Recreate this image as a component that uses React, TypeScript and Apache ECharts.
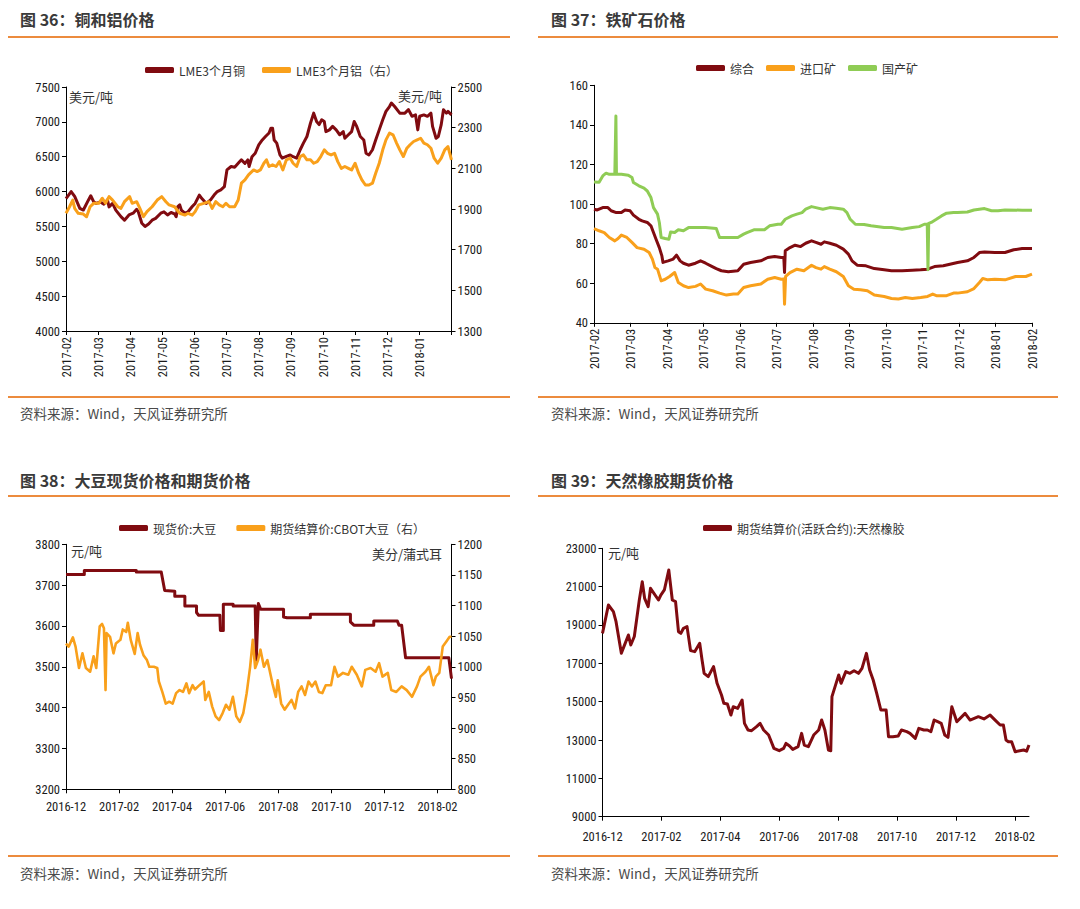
import React, { useEffect, useRef } from 'react';
import * as echarts from 'echarts';

const RED = '#800b10';
const ORANGE = '#f9a01b';
const GREEN = '#8fcc55';
const RULE = '#ec8b3d';
const NUM_FONT = '"Roboto Condensed", "Liberation Sans Narrow", "DejaVu Sans Condensed", "Liberation Sans", Arial, sans-serif';
const CJK_FONT = '"Noto Sans CJK SC", "Noto Sans", sans-serif';

// ---------- 图36 铜和铝价格 (x: months since 2017-02) ----------
const copper: number[][] = [
  [0, 5900], [0.16, 6000], [0.27, 5930], [0.43, 5760], [0.54, 5735], [0.7, 5880], [0.77, 5940], [0.86, 5855],
  [0.94, 5830], [1.07, 5850], [1.18, 5820], [1.29, 5880], [1.34, 5780], [1.45, 5830], [1.55, 5735], [1.71, 5640],
  [1.82, 5590], [1.96, 5665], [2.09, 5690], [2.2, 5745], [2.25, 5710], [2.36, 5545], [2.46, 5500], [2.57, 5535],
  [2.68, 5590], [2.79, 5615], [2.95, 5690], [3.05, 5710], [3.16, 5665], [3.27, 5700], [3.38, 5680], [3.43, 5640],
  [3.48, 5785], [3.54, 5810], [3.59, 5735], [3.7, 5690], [3.8, 5710], [3.93, 5785], [4.02, 5830], [4.15, 5950],
  [4.23, 5900], [4.37, 5830], [4.5, 5880], [4.61, 5950], [4.71, 6000], [4.82, 6025], [4.93, 6070], [5.01, 6310],
  [5.14, 6360], [5.25, 6350], [5.36, 6405], [5.46, 6455], [5.57, 6405], [5.66, 6455], [5.7, 6360], [5.79, 6500],
  [5.89, 6550], [6.0, 6670], [6.11, 6740], [6.21, 6790], [6.32, 6840], [6.38, 6910], [6.43, 6910], [6.48, 6740],
  [6.56, 6695], [6.66, 6525], [6.73, 6480], [6.86, 6505], [6.98, 6525], [7.07, 6500], [7.18, 6480], [7.29, 6600],
  [7.39, 6695], [7.5, 6790], [7.61, 6980], [7.71, 7125], [7.8, 7005], [7.88, 6960], [7.96, 7030], [8.04, 7005],
  [8.09, 6860], [8.2, 6885], [8.3, 6935], [8.41, 6885], [8.52, 6815], [8.63, 6860], [8.68, 6765], [8.79, 6815],
  [8.89, 6860], [8.97, 7005], [9.05, 6935], [9.16, 6790], [9.27, 6740], [9.34, 6550], [9.43, 6525], [9.54, 6600],
  [9.64, 6740], [9.75, 6885], [9.86, 7030], [9.96, 7150], [10.07, 7220], [10.13, 7270], [10.23, 7220], [10.39, 7125],
  [10.55, 7125], [10.66, 7175], [10.77, 7080], [10.88, 7100], [10.95, 6885], [11.01, 7080], [11.14, 7100], [11.25, 7080],
  [11.36, 7125], [11.41, 6935], [11.52, 6765], [11.59, 6790], [11.68, 6960], [11.75, 7175], [11.84, 7125], [11.89, 7150],
  [12, 7100],
];
const aluminium: number[][] = [
  [0, 1879], [0.11, 1911], [0.21, 1944], [0.27, 1903], [0.38, 1879], [0.54, 1875], [0.64, 1862], [0.75, 1911],
  [0.86, 1928], [1.02, 1928], [1.13, 1953], [1.23, 1928], [1.34, 1961], [1.45, 1944], [1.61, 1911], [1.71, 1903],
  [1.82, 1936], [1.98, 1961], [2.06, 1928], [2.2, 1936], [2.3, 1903], [2.41, 1862], [2.52, 1887], [2.68, 1911],
  [2.84, 1944], [2.98, 1961], [3.11, 1936], [3.21, 1920], [3.38, 1911], [3.54, 1879], [3.7, 1870], [3.8, 1879],
  [3.93, 1870], [4.02, 1887], [4.13, 1920], [4.29, 1928], [4.45, 1936], [4.55, 1903], [4.66, 1936], [4.77, 1920],
  [4.88, 1911], [4.98, 1928], [5.09, 1911], [5.25, 1911], [5.36, 1944], [5.46, 2027], [5.57, 2043], [5.68, 2068],
  [5.84, 2092], [5.95, 2084], [6.05, 2092], [6.16, 2125], [6.24, 2142], [6.32, 2109], [6.43, 2117], [6.54, 2109],
  [6.64, 2133], [6.75, 2092], [6.86, 2142], [6.98, 2150], [7.07, 2125], [7.18, 2109], [7.29, 2158], [7.39, 2166],
  [7.5, 2142], [7.61, 2142], [7.71, 2125], [7.82, 2133], [7.93, 2158], [8.04, 2191], [8.14, 2174], [8.25, 2166],
  [8.36, 2174], [8.46, 2133], [8.57, 2100], [8.68, 2109], [8.79, 2100], [8.89, 2092], [9.0, 2125], [9.11, 2076],
  [9.21, 2043], [9.32, 2018], [9.43, 2018], [9.54, 2027], [9.64, 2076], [9.75, 2125], [9.86, 2191], [9.96, 2240],
  [10.07, 2273], [10.18, 2265], [10.29, 2224], [10.39, 2191], [10.5, 2158], [10.61, 2199], [10.71, 2216], [10.82, 2232],
  [10.93, 2240], [11.04, 2248], [11.14, 2224], [11.25, 2216], [11.36, 2199], [11.46, 2150], [11.57, 2125], [11.68, 2150],
  [11.79, 2191], [11.89, 2207], [12, 2142],
];
const copperTicksLeft = [4000, 4500, 5000, 5500, 6000, 6500, 7000, 7500];
const aluTicksRight = [1300, 1500, 1700, 1900, 2100, 2300, 2500];

// ---------- 图37 铁矿石价格 (x: months since 2017-02) ----------
const oreTotal: number[][] = [
  [0, 97.4], [0.09, 97], [0.24, 98.2], [0.38, 98.2], [0.47, 96.6], [0.61, 95.7], [0.75, 95.7], [0.85, 97],
  [0.99, 96.6], [1.08, 94.4], [1.23, 92.3], [1.32, 91.5], [1.46, 90.7], [1.56, 89], [1.63, 85.6], [1.7, 82.2],
  [1.79, 78], [1.86, 73.8], [1.89, 70.5], [2.03, 71.3], [2.17, 72.2], [2.26, 74.2], [2.36, 71.3], [2.45, 70.1],
  [2.59, 69.1], [2.78, 70.1], [2.92, 71.3], [3.06, 70.1], [3.2, 68.8], [3.35, 67.4], [3.49, 66.3], [3.68, 65.8],
  [3.94, 66.3], [4.1, 69.6], [4.29, 70.5], [4.57, 71.3], [4.76, 73], [4.95, 73.5], [5.13, 73], [5.2, 73],
  [5.22, 65.4], [5.24, 76.4], [5.37, 78], [5.51, 79.2], [5.66, 78.5], [5.8, 80.2], [5.96, 81.4], [6.08, 80.6],
  [6.22, 79.7], [6.31, 80.9], [6.46, 80.2], [6.64, 79.2], [6.83, 77.2], [6.97, 74.7], [7.07, 71.3], [7.21, 69.1],
  [7.45, 68.8], [7.68, 67.4], [7.95, 66.8], [8.15, 66.3], [8.44, 66.3], [8.72, 66.6], [8.95, 66.8], [9.14, 67.1],
  [9.33, 68.4], [9.57, 68.8], [9.75, 69.6], [9.96, 70.5], [10.23, 71.3], [10.41, 73], [10.56, 75.5], [10.7, 75.8],
  [10.98, 75.5], [11.26, 75.5], [11.5, 76.9], [11.73, 77.5], [12, 77.5],
];
const oreImport: number[][] = [
  [0, 87.6], [0.14, 86.5], [0.28, 85.6], [0.42, 83.1], [0.57, 81.4], [0.66, 82.6], [0.75, 84.3], [0.9, 83.1],
  [1.04, 80.6], [1.18, 78], [1.37, 77.2], [1.51, 75.5], [1.6, 72.2], [1.67, 67.9], [1.74, 67.1], [1.84, 61.2],
  [1.95, 62], [2.07, 63.4], [2.21, 65.4], [2.31, 60.4], [2.45, 58.7], [2.59, 57.8], [2.78, 58.4], [2.92, 59.6],
  [3.06, 57], [3.25, 56.2], [3.44, 55], [3.63, 54], [3.82, 54.5], [3.94, 54.5], [4.1, 57.8], [4.29, 58.7],
  [4.57, 59.6], [4.76, 62], [4.95, 62.9], [5.13, 62], [5.2, 62.2], [5.22, 49.4], [5.25, 63.4], [5.37, 65.4],
  [5.56, 67.1], [5.75, 66.3], [5.96, 69.1], [6.08, 67.9], [6.22, 67.1], [6.31, 68.4], [6.46, 67.1], [6.64, 65.8],
  [6.83, 63.4], [6.97, 58.7], [7.12, 57], [7.3, 56.7], [7.49, 56.2], [7.68, 54], [7.95, 53.3], [8.15, 52.3],
  [8.34, 52], [8.53, 52.8], [8.72, 52.3], [8.95, 52.8], [9.14, 53.3], [9.28, 54.5], [9.38, 53.7], [9.66, 53.7],
  [9.85, 55], [9.96, 55], [10.23, 55.7], [10.41, 57.3], [10.56, 60.4], [10.65, 62.4], [10.79, 61.7], [10.98, 62],
  [11.26, 61.7], [11.55, 63.4], [11.83, 63.4], [12, 64.6],
];
const oreDomestic: number[][] = [
  [0, 111.2], [0.14, 111], [0.24, 114.2], [0.33, 115.6], [0.42, 115], [0.57, 115], [0.585, 115], [0.6, 144.5],
  [0.615, 115], [0.75, 115], [0.94, 114.6], [1.04, 113.4], [1.08, 110.9], [1.23, 109.2], [1.37, 108], [1.46, 106.6],
  [1.56, 103.3], [1.63, 98.2], [1.74, 94.9], [1.79, 90.7], [1.84, 83.1], [1.95, 82.6], [2.05, 82.2], [2.1, 85.9],
  [2.21, 85.6], [2.31, 87], [2.45, 86.5], [2.59, 88.1], [2.78, 88.1], [3.06, 88.1], [3.35, 87.6], [3.44, 83.1],
  [3.63, 83.1], [3.94, 83.1], [4.1, 84.8], [4.19, 85.6], [4.38, 87], [4.67, 87], [4.81, 89], [5.04, 89.8],
  [5.13, 89.8], [5.24, 92.3], [5.42, 94], [5.56, 94.9], [5.7, 95.7], [5.8, 97.4], [5.96, 98.7], [6.08, 98.2],
  [6.27, 97.4], [6.46, 98.2], [6.64, 97.9], [6.83, 97.4], [6.93, 95.7], [7.02, 92.3], [7.16, 89.8], [7.4, 89.7],
  [7.59, 89], [7.95, 88.1], [8.15, 88.1], [8.44, 87.3], [8.72, 88.1], [8.91, 88.6], [9.05, 89.8], [9.13, 89.8],
  [9.15, 66.8], [9.17, 90.2], [9.24, 90.7], [9.38, 92.3], [9.52, 94], [9.66, 95.4], [9.85, 95.7], [9.96, 95.7],
  [10.23, 96], [10.41, 97], [10.7, 97.7], [10.89, 96.6], [11.07, 96.6], [11.26, 97], [11.73, 96.9], [12, 96.9],
];

// ---------- 图38 大豆现货价格和期货价格 (x: months since 2016-12) ----------
const soySpot: number[][] = [
  [0, 3726], [0.69, 3726], [0.69, 3736], [2.65, 3736], [2.65, 3732], [3.59, 3732], [3.72, 3687], [4.1, 3685],
  [4.1, 3673], [4.48, 3673], [4.48, 3649], [4.92, 3649], [4.92, 3633], [5.0, 3626], [5.8, 3626], [5.82, 3589],
  [5.93, 3589], [5.93, 3653], [6.3, 3653], [6.3, 3649], [7.13, 3649], [7.17, 3516], [7.25, 3655], [7.34, 3641],
  [8.2, 3641], [8.2, 3622], [8.33, 3620], [9.21, 3620], [9.21, 3629], [10.72, 3629], [10.72, 3610], [10.85, 3602],
  [11.6, 3602], [11.6, 3612], [12.49, 3612], [12.55, 3602], [12.65, 3602], [12.8, 3522], [14.43, 3522], [14.53, 3471],
];
const soyCbot: number[][] = [
  [0, 1038], [0.1, 1033], [0.26, 1048], [0.36, 1033], [0.49, 998], [0.62, 1022], [0.75, 998], [0.91, 992],
  [1.04, 1017], [1.14, 998], [1.27, 1066], [1.36, 1070], [1.43, 1063], [1.49, 962], [1.53, 1055], [1.66, 1049],
  [1.79, 1022], [1.88, 1038], [2.05, 1044], [2.14, 1061], [2.27, 1057], [2.33, 1072], [2.44, 1044], [2.59, 1021],
  [2.7, 1055], [2.79, 1036], [2.92, 1019], [3.05, 1011], [3.14, 1000], [3.31, 1000], [3.44, 998], [3.5, 976],
  [3.63, 959], [3.76, 940], [3.89, 943], [4.02, 940], [4.15, 957], [4.28, 962], [4.41, 959], [4.54, 973],
  [4.64, 957], [4.77, 970], [4.86, 963], [5.03, 970], [5.19, 976], [5.25, 946], [5.38, 959], [5.51, 935],
  [5.64, 919], [5.77, 913], [5.9, 924], [6.03, 938], [6.16, 930], [6.29, 951], [6.42, 919], [6.55, 910],
  [6.68, 924], [6.81, 957], [6.94, 1000], [7.04, 1044], [7.13, 998], [7.24, 1011], [7.33, 1028], [7.46, 1000],
  [7.59, 1011], [7.78, 973], [7.91, 951], [7.98, 978], [8.11, 940], [8.24, 930], [8.37, 938], [8.5, 946],
  [8.63, 932], [8.75, 959], [8.88, 968], [9.01, 954], [9.14, 976], [9.27, 968], [9.4, 976], [9.53, 959],
  [9.66, 957], [9.79, 970], [9.99, 970], [10.12, 1000], [10.25, 984], [10.44, 990], [10.64, 987], [10.77, 1000],
  [10.96, 987], [11.15, 968], [11.28, 995], [11.48, 998], [11.67, 992], [11.8, 1006], [11.93, 984], [12.13, 990],
  [12.26, 962], [12.45, 959], [12.65, 968], [12.84, 962], [13.04, 951], [13.23, 968], [13.36, 984], [13.55, 992],
  [13.68, 1000], [13.85, 970], [13.94, 984], [14.07, 990], [14.2, 1033], [14.33, 1041], [14.46, 1049], [14.53, 1049],
];

// ---------- 图39 天然橡胶期货价格 (x: months since 2016-12) ----------
const rubber: number[][] = [
  [0, 18565], [0.2, 20044], [0.37, 19700], [0.46, 19174], [0.64, 17530], [0.76, 18000], [0.88, 18478], [0.96, 17957],
  [1.08, 18400], [1.25, 20304], [1.35, 21261], [1.43, 20391], [1.55, 19957], [1.63, 20913], [1.9, 20304], [1.98, 20560],
  [2.1, 20826], [2.25, 21870], [2.37, 20304], [2.48, 20217], [2.58, 18652], [2.66, 18565], [2.75, 18826], [2.87, 18913],
  [2.99, 17661], [3.13, 17609], [3.3, 18043], [3.38, 17174], [3.45, 16478], [3.59, 16304], [3.77, 16826], [3.89, 15957],
  [4.04, 15348], [4.12, 14913], [4.24, 14878], [4.36, 14304], [4.44, 14739], [4.59, 14652], [4.74, 15087], [4.82, 13870],
  [4.94, 13522], [5.06, 13487], [5.23, 13696], [5.35, 13870], [5.47, 13522], [5.64, 13261], [5.82, 12565], [6.0, 12443],
  [6.15, 12565], [6.23, 12826], [6.35, 12687], [6.46, 12513], [6.64, 12652], [6.76, 13348], [6.85, 12739], [6.99, 12652],
  [7.17, 13261], [7.34, 13522], [7.44, 14043], [7.55, 13522], [7.67, 12478], [7.75, 12440], [7.79, 15261], [7.93, 15957],
  [8.02, 16391], [8.1, 15957], [8.26, 16565], [8.4, 16478], [8.54, 16617], [8.69, 16478], [8.81, 16739], [8.96, 17522],
  [9.07, 16652], [9.19, 16130], [9.31, 15435], [9.45, 14565], [9.63, 14565], [9.71, 13174], [9.86, 13174], [10.04, 13209],
  [10.15, 13522], [10.33, 13435], [10.44, 13348], [10.62, 13087], [10.74, 13609], [10.91, 13522], [11.03, 13522], [11.15, 13435],
  [11.26, 14043], [11.38, 13957], [11.5, 13870], [11.62, 13261], [11.73, 13139], [11.86, 14740], [12.03, 13955], [12.31, 14390],
  [12.48, 14040], [12.76, 14215], [12.95, 14100], [13.16, 14300], [13.33, 14040], [13.5, 13780], [13.61, 13780], [13.7, 13000],
  [13.78, 12910], [13.89, 12910], [14.01, 12390], [14.3, 12480], [14.4, 12420], [14.48, 12740],
];
const rubberTicks = [9000, 11000, 13000, 15000, 17000, 19000, 21000, 23000];

const months0to12 = [0, 1, 2, 3, 4, 5, 6, 7, 8, 9, 10, 11, 12];
const months0to11 = [0, 1, 2, 3, 4, 5, 6, 7, 8, 9, 10, 11];
const evenMonths = [0, 2, 4, 6, 8, 10, 12, 14];

const monthFmt = (baseYear: number, baseMonth: number) => (v: number) => {
  const total = baseYear * 12 + (baseMonth - 1) + Math.round(v);
  const y = Math.floor(total / 12);
  const m = (total % 12) + 1;
  return `${y}-${m < 10 ? '0' + m : m}`;
};
const plainNum = (v: number) => String(v);

const axisLine = { show: true, onZero: false, lineStyle: { color: '#000', width: 1 } };
const tick = { show: true, length: 4, inside: false, lineStyle: { color: '#000', width: 1 } };
const numLabel = { color: '#1a1a1a', fontSize: 12.5, fontFamily: NUM_FONT };

function xMonthAxis(grid: number, max: number, ticks: number[], labels: number[], fmt: (v: number) => string, rotate: number, margin: number) {
  return {
    type: 'value', gridIndex: grid, min: 0, max, splitLine: { show: false },
    axisLine, axisTick: { ...tick, customValues: ticks },
    axisLabel: { ...numLabel, rotate, margin, customValues: labels, formatter: fmt },
  };
}
function yValAxis(grid: number, min: number, max: number, interval: number, ticks: number[], position: string) {
  return {
    type: 'value', gridIndex: grid, min, max, interval, position, splitLine: { show: false },
    axisLine, axisTick: { ...tick, customValues: ticks },
    axisLabel: { ...numLabel, margin: 6, customValues: ticks, formatter: plainNum },
  };
}
function lineSeries(name: string, data: number[][], color: string, xi: number, yi: number, width = 3) {
  return {
    name, type: 'line', data, xAxisIndex: xi, yAxisIndex: yi, showSymbol: false, symbol: 'none',
    lineStyle: { color, width, join: 'round' }, itemStyle: { color }, animation: false,
  };
}
function legendCfg(names: string[], left: number, top: number, gap: number) {
  return {
    data: names, left, top, itemWidth: 29, itemHeight: 6, itemGap: gap, icon: 'roundRect',
    selectedMode: false, textStyle: { fontSize: 12, color: '#333', fontFamily: CJK_FONT },
  };
}
const title = (text: string, x: number, y: number) => ({
  type: 'text', x, y, style: { text, fill: '#3a3a3a', font: `bold 16px ${CJK_FONT}`, align: 'left', verticalAlign: 'middle' },
});
const unit = (text: string, x: number, y: number, align = 'left') => ({
  type: 'text', x, y, style: { text, fill: '#333', font: `13px ${CJK_FONT}`, align, verticalAlign: 'middle' },
});
const source = (x: number, y: number) => ({
  type: 'text', x, y, style: { text: '资料来源：Wind，天风证券研究所', fill: '#4a4a4a', font: `13.5px ${CJK_FONT}`, align: 'left', verticalAlign: 'middle' },
});
const rule = (x1: number, x2: number, y: number) => ({
  type: 'line', shape: { x1, y1: y, x2, y2: y }, style: { stroke: RULE, lineWidth: 2 },
});

export default function App() {
  const ref = useRef<HTMLDivElement>(null);
  useEffect(() => {
    document.body.style.margin = '0';
    if (!ref.current) return;
    const chart = echarts.init(ref.current, null, { renderer: 'svg' });
    const option: any = {
      animation: false,
      backgroundColor: '#fff',
      textStyle: { fontFamily: CJK_FONT },
      grid: [
        { left: 66, top: 87, width: 385.5, height: 244 },
        { left: 594, top: 85.3, width: 438, height: 237.5 },
        { left: 66, top: 544.3, width: 385.5, height: 245 },
        { left: 602.5, top: 548.3, width: 426.5, height: 268.4 },
      ],
      xAxis: [
        xMonthAxis(0, 12, months0to12, months0to11, monthFmt(2017, 2), 90, 6),
        xMonthAxis(1, 12, months0to12, months0to12, monthFmt(2017, 2), 90, 6),
        xMonthAxis(2, 14.53, evenMonths, evenMonths, monthFmt(2016, 12), 0, 11),
        xMonthAxis(3, 14.48, evenMonths, evenMonths, monthFmt(2016, 12), 0, 13),
      ],
      yAxis: [
        yValAxis(0, 4000, 7500, 500, copperTicksLeft, 'left'),
        yValAxis(0, 1300, 2500, 200, aluTicksRight, 'right'),
        yValAxis(1, 40, 160, 20, [40, 60, 80, 100, 120, 140, 160], 'left'),
        yValAxis(2, 3200, 3800, 100, [3200, 3300, 3400, 3500, 3600, 3700, 3800], 'left'),
        yValAxis(2, 800, 1200, 50, [800, 850, 900, 950, 1000, 1050, 1100, 1150, 1200], 'right'),
        yValAxis(3, 9000, 23000, 2000, rubberTicks, 'left'),
      ],
      legend: [
        legendCfg(['LME3个月铜', 'LME3个月铝（右）'], 140, 59, 17),
        legendCfg(['综合', '进口矿', '国产矿'], 691, 57, 12),
        legendCfg(['现货价:大豆', '期货结算价:CBOT大豆（右）'], 114, 517, 20),
        legendCfg(['期货结算价(活跃合约):天然橡胶'], 698, 517, 20),
      ],
      series: [
        lineSeries('LME3个月铜', copper, RED, 0, 0),
        lineSeries('LME3个月铝（右）', aluminium, ORANGE, 0, 1),
        lineSeries('综合', oreTotal, RED, 1, 2),
        lineSeries('进口矿', oreImport, ORANGE, 1, 2),
        lineSeries('国产矿', oreDomestic, GREEN, 1, 2),
        lineSeries('现货价:大豆', soySpot, RED, 2, 3),
        lineSeries('期货结算价:CBOT大豆（右）', soyCbot, ORANGE, 2, 4, 2.6),
        lineSeries('期货结算价(活跃合约):天然橡胶', rubber, RED, 3, 5),
      ],
      graphic: [
        title('图 36：铜和铝价格', 20, 19),
        title('图 37：铁矿石价格', 551, 19),
        title('图 38：大豆现货价格和期货价格', 20, 480),
        title('图 39：天然橡胶期货价格', 551, 480),
        rule(8, 510, 37), rule(538, 1058, 37),
        rule(8, 510, 397), rule(538, 1058, 397),
        rule(8, 510, 496), rule(538, 1058, 496),
        rule(8, 510, 856), rule(538, 1058, 856),
        source(20, 413), source(551, 413), source(20, 873), source(551, 873),
        unit('美元/吨', 69, 96), unit('美元/吨', 442, 95, 'right'),
        unit('元/吨', 71, 550), unit('美分/蒲式耳', 442, 553, 'right'),
        unit('元/吨', 608, 552),
      ],
    };
    chart.setOption(option);
    return () => chart.dispose();
  }, []);
  return <div ref={ref} style={{ width: 1080, height: 909 }} />;
}
